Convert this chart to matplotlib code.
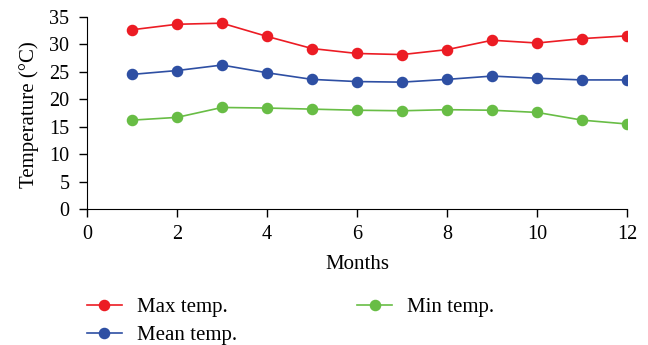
import matplotlib
matplotlib.use("Agg")
import matplotlib.pyplot as plt

months = [1, 2, 3, 4, 5, 6, 7, 8, 9, 10, 11, 12]
max_temp = [32.6, 33.6, 33.8, 31.4, 29.2, 28.3, 28.1, 29.0, 30.7, 30.2, 31.0, 31.5]
mean_temp = [24.5, 25.2, 26.2, 24.8, 23.6, 23.2, 23.1, 23.6, 24.2, 23.8, 23.5, 23.5]
min_temp = [16.2, 16.7, 18.5, 18.4, 18.2, 18.0, 17.9, 18.1, 18.0, 17.6, 16.2, 15.5]

plt.rcParams['font.family'] = ['Liberation Serif', 'DejaVu Serif']

fig = plt.figure(figsize=(6.48, 3.45), dpi=100)
ax = fig.add_axes([0.134, 0.393, 0.834, 0.559])

l1, = ax.plot(months, max_temp, color='#ec1c24', marker='o', markersize=7.3, lw=1.2, label='Max temp.')
l2, = ax.plot(months, mean_temp, color='#2e4fa3', marker='o', markersize=7.3, lw=1.2, label='Mean temp.')
l3, = ax.plot(months, min_temp, color='#68bd45', marker='o', markersize=7.3, lw=1.2, label='Min temp.')

ax.set_xlim(0, 12)
ax.set_ylim(0, 35)
ax.set_xticks(range(0, 13, 2))
ax.set_yticks(range(0, 36, 5))
ax.spines['top'].set_visible(False)
ax.spines['right'].set_visible(False)
ax.tick_params(labelsize=14.5, length=5.5, width=1, direction='out', pad=7)
ax.tick_params(axis='x', pad=6)
ax.set_xlabel('Months', fontsize=15)
ax.set_ylabel('Temperature (°C)', fontsize=15)
ax.xaxis.set_label_coords(0.5, -0.235)
ax.yaxis.set_label_coords(-0.088, 0.49)

fig.legend(handles=[l1, l2, l3], ncol=2, loc='upper left', bbox_to_anchor=(0.134, 0.138),
           borderaxespad=0, borderpad=0,
           frameon=False, fontsize=15, handlelength=1.68, handletextpad=0.72,
           columnspacing=5.77, labelspacing=0.41)

fig.savefig('out.png', dpi=100)
